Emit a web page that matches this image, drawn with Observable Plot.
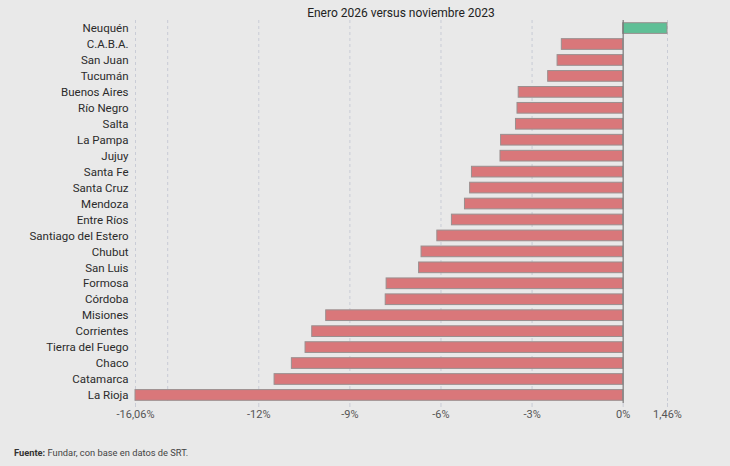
<!DOCTYPE html>
<html>
<head>
<meta charset="utf-8">
<script src="https://cdn.jsdelivr.net/npm/d3@7"></script>
<script src="https://cdn.jsdelivr.net/npm/@observablehq/plot@0.6"></script>
<style>
  html, body { margin: 0; padding: 0; background: #e9e9e9; }
  body { width: 730px; height: 466px; overflow: hidden; font-family: Roboto, sans-serif; }
  #title { height: 20px; line-height: 20px; font-size: 12px; color: #222; text-align: center; padding-left: 72px; box-sizing: border-box; width: 730px; position: relative; top: 3px; }
  #caption { font-size: 9.3px; color: #444; padding-left: 14px; margin-top: 14px; }
  #caption b { font-weight: 700; color: #333; }
</style>
</head>
<body>
<div id="title">Enero 2026 versus noviembre 2023</div>
<div id="chart"></div>
<div id="caption"><b>Fuente:</b> Fundar, con base en datos de SRT.</div>
<script>
const provinces = ["Neuquén","C.A.B.A.","San Juan","Tucumán","Buenos Aires","Río Negro","Salta","La Pampa","Jujuy","Santa Fe","Santa Cruz","Mendoza","Entre Ríos","Santiago del Estero","Chubut","San Luis","Formosa","Córdoba","Misiones","Corrientes","Tierra del Fuego","Chaco","Catamarca","La Rioja"];
const values = [1.46,-2.02,-2.16,-2.47,-3.44,-3.48,-3.53,-4.02,-4.04,-4.98,-5.04,-5.21,-5.64,-6.12,-6.64,-6.72,-7.79,-7.82,-9.78,-10.24,-10.46,-10.91,-11.48,-16.06];
const tickValues = [-16.06,-12,-9,-6,-3,0,1.46];
const gridValues = [-16.06,-15,-12,-9,-6,-3,1.46];

const data = provinces.map((p, i) => ({province: p, value: values[i]}));
const fmt = v => (Number.isInteger(v) ? String(v) : v.toFixed(2).replace(".", ",")) + "%";

const chart = Plot.plot({
  width: 730,
  height: 413,
  marginLeft: 135,
  marginRight: 63,
  marginTop: 0,
  marginBottom: 30,
  style: {background: "#e9e9e9", fontFamily: "Roboto, sans-serif", fontSize: "11px", color: "#333"},
  x: {domain: [-16.06, 1.46], label: null},
  y: {domain: provinces, label: null, paddingInner: 0.33, paddingOuter: 0.17, round: false},
  marks: [
    Plot.ruleX(gridValues, {stroke: "#c9ccd6", strokeDasharray: "3,3", strokeWidth: 1}),
    Plot.axisX({ticks: tickValues, tickFormat: fmt, tickSize: 4, tickPadding: 3, stroke: "#c9ccd6", fill: "#555", fontSize: 11, label: null}),
    Plot.axisY({tickSize: 0, tickPadding: 7, fill: "#2b2b2b", fontSize: 11.5, label: null}),
    Plot.barX(data, {x: "value", y: "province", fill: d => d.value >= 0 ? "#5fbf96" : "#d9777a", stroke: "#9a8f8f", strokeWidth: 1}),
    Plot.ruleX([0], {stroke: "#777", strokeWidth: 1.2})
  ]
});
document.getElementById("chart").append(chart);
</script>
</body>
</html>
